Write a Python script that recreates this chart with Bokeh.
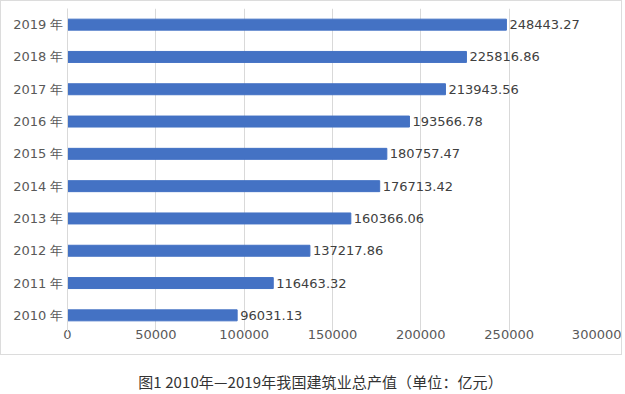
from bokeh.plotting import figure
from bokeh.models import ColumnDataSource, LabelSet, Div, FactorRange, Range1d, BasicTickFormatter
from bokeh.layouts import column
from bokeh.core.properties import value
from bokeh.embed import file_html
from bokeh.resources import INLINE

years = ["2010 年", "2011 年", "2012 年", "2013 年", "2014 年",
         "2015 年", "2016 年", "2017 年", "2018 年", "2019 年"]
values = [96031.13, 116463.32, 137217.86, 160366.06, 176713.42,
          180757.47, 193566.78, 213943.56, 225816.86, 248443.27]
value_labels = [f"{v:.2f}" for v in values]
x_ticks = [0, 50000, 100000, 150000, 200000, 250000, 300000]
caption = "图1 2010年—2019年我国建筑业总产值（单位：亿元）"

LATIN = "DejaVu Sans"

src = ColumnDataSource(dict(year=years, value=values, label=value_labels))

p = figure(y_range=FactorRange(factors=years, range_padding=0),
           x_range=Range1d(0, 300000),
           width=622, height=355, title=None,
           output_backend="svg", toolbar_location=None,
           min_border_left=66, min_border_right=26,
           min_border_top=7, min_border_bottom=25)
p.styles = {"border": "1px solid #dcdcdc"}

p.hbar(y="year", right="value", height=0.34, color="#4472C4", source=src)

labels = LabelSet(x="value", y="year", text="label", source=src,
                  x_offset=3, text_align="left", text_baseline="middle",
                  text_font=value(LATIN), text_font_size="13px", text_color="#404040")
p.add_layout(labels)

p.xaxis.ticker = x_ticks
p.xaxis.formatter = BasicTickFormatter(use_scientific=False)
p.xaxis.axis_line_color = None
p.xaxis.major_tick_line_color = None
p.xaxis.minor_tick_line_color = None
p.xaxis.major_tick_out = 0
p.xaxis.major_label_standoff = -2
p.xaxis.major_label_text_font = LATIN
p.xaxis.major_label_text_font_size = "13px"
p.xaxis.major_label_text_color = "#595959"

p.yaxis.axis_line_color = "#d9d9d9"
p.yaxis.major_tick_line_color = None
p.yaxis.minor_tick_line_color = None
p.yaxis.major_tick_out = 0
p.yaxis.major_label_standoff = 4
p.yaxis.major_label_text_font = LATIN
p.yaxis.major_label_text_font_size = "13px"
p.yaxis.major_label_text_color = "#595959"

p.xgrid.grid_line_color = "#d9d9d9"
p.ygrid.grid_line_color = None
p.outline_line_color = None

div = Div(text=caption, width=622,
          styles={"font-family": "'Noto Sans CJK SC', sans-serif",
                  "font-size": "15px", "color": "#333333",
                  "text-align": "center", "margin-top": "18px",
                  "text-indent": "9px", "letter-spacing": "0.1px",
                  "line-height": "18px"})

layout = column(p, div, spacing=0)
open("out.html", "w").write(file_html(layout, INLINE))
